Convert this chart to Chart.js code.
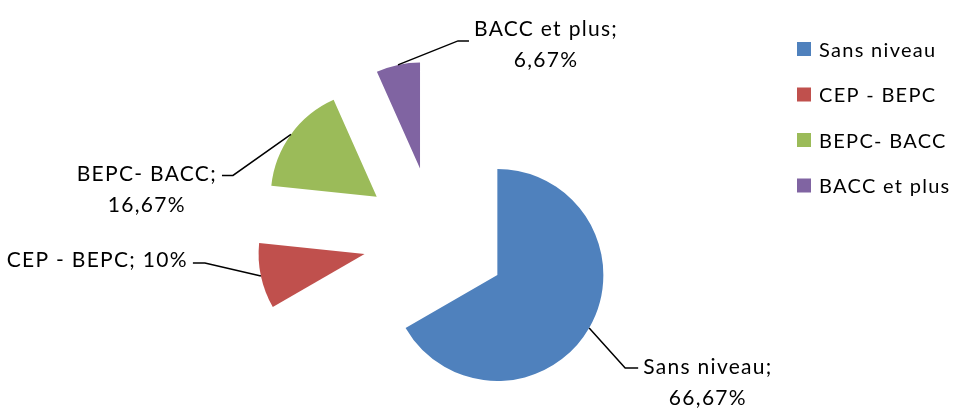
<!DOCTYPE html>
<html><head><meta charset="utf-8">
<script src="https://cdn.jsdelivr.net/npm/chart.js@4.4.0/dist/chart.umd.min.js"></script>
<style>html,body{margin:0;padding:0;background:#fff;overflow:hidden}#wrap{width:956px;height:410px;position:relative}</style>
</head><body><div id="wrap"><canvas id="c"></canvas></div>
<script>
const categories = ['Sans niveau', 'CEP - BEPC', 'BEPC- BACC', 'BACC et plus'];
const values = [66.67, 10, 16.67, 6.67];
const colors = ['#4F81BD', '#C0504D', '#9BBB59', '#8064A2'];

// style / layout (not data)
const EXPLODE = 72;
const FONT = '21px Lato';
const LEG_FONT = '20px Lato';
const LSP = '1.3px';
const labelLayout = [
  {dx: 36, dy: 40, tail: 13, base: 6, wrap: true},
  {dx: -56, dy: -13, tail: -12, base: 4, wrap: false},
  {dx: -58, dy: 41, tail: -11, base: 6, wrap: true},
  {dx: 60, dy: -24, tail: 11, base: -5, wrap: true}
];

function fmt(v){ return String(v).replace('.', ',') + '%'; }

const explodePlugin = {
  id: 'explode',
  beforeDatasetDraw(chart, args) {
    const ctx = chart.ctx;
    args.meta.data.forEach(arc => {
      const mid = (arc.startAngle + arc.endAngle) / 2;
      ctx.save();
      ctx.translate(Math.cos(mid) * EXPLODE, Math.sin(mid) * EXPLODE);
      arc.draw(ctx);
      ctx.restore();
    });
    return false;
  }
};

const labelPlugin = {
  id: 'labels',
  afterDraw(chart) {
    const ctx = chart.ctx;
    const meta = chart.getDatasetMeta(0);
    ctx.save();
    ctx.font = FONT;
    try { ctx.letterSpacing = LSP; } catch(e) {}
    meta.data.forEach((arc, i) => {
      const L = labelLayout[i];
      const mid = (arc.startAngle + arc.endAngle) / 2;
      const r = arc.outerRadius + EXPLODE;
      const ex = arc.x + Math.cos(mid) * r, ey = arc.y + Math.sin(mid) * r;
      const bx = ex + L.dx, by = ey + L.dy;
      const tx = bx + L.tail;
      ctx.strokeStyle = '#000'; ctx.lineWidth = 1.5;
      ctx.beginPath(); ctx.moveTo(ex, ey); ctx.lineTo(bx, by); ctx.lineTo(tx, by); ctx.stroke();
      const lines = L.wrap ? [categories[i] + ';', fmt(values[i])] : [categories[i] + '; ' + fmt(values[i])];
      const w = Math.max(...lines.map(s => ctx.measureText(s).width));
      const gap = 5;
      const left = L.tail > 0 ? tx + gap : tx - gap - w;
      ctx.fillStyle = '#000'; ctx.textAlign = 'center'; ctx.textBaseline = 'alphabetic';
      lines.forEach((s, k) => ctx.fillText(s, left + w / 2, by + L.base + k * 31));
    });
    // legend
    ctx.font = LEG_FONT;
    const lx = 797, ly0 = 49, lstep = 45.5;
    ctx.textAlign = 'left';
    categories.forEach((c, i) => {
      const y = ly0 + i * lstep;
      ctx.fillStyle = colors[i];
      ctx.fillRect(lx, y - 7, 14, 14);
      ctx.fillStyle = '#000';
      ctx.fillText(c, lx + 22, y + 7.5);
    });
    ctx.restore();
  }
};

new Chart(document.getElementById('c'), {
  type: 'pie',
  data: { labels: categories, datasets: [{ data: values, backgroundColor: colors, borderWidth: 0, radius: 106, hoverOffset: 0 }] },
  options: {
    responsive: true, maintainAspectRatio: false, animation: false,
    layout: { padding: { left: 0, right: 86, top: 68, bottom: 0 } },
    plugins: { legend: { display: false }, tooltip: { enabled: false }, title: { display: false } },
    events: []
  },
  plugins: [explodePlugin, labelPlugin]
});
</script></body></html>
